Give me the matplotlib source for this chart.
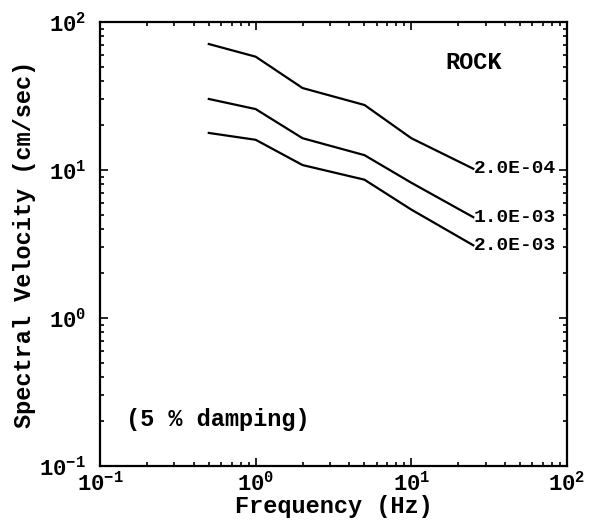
import matplotlib.pyplot as plt
import numpy as np
from matplotlib.ticker import LogLocator, NullFormatter

# частоты (Hz) и спектральные скорости (cm/sec)
freq = [0.5, 1.0, 2.0, 5.0, 10.0, 25.0]
vel_2e4 = [71.0, 58.3, 35.8, 27.5, 16.4, 10.2]
vel_1e3 = [30.2, 25.8, 16.4, 12.6, 8.2, 4.8]
vel_2e3 = [17.8, 16.0, 10.8, 8.6, 5.4, 3.1]
curve_labels = ["2.0E-04", "1.0E-03", "2.0E-03"]

plt.rcParams['font.family'] = ['Liberation Mono']
plt.rcParams['font.weight'] = 'bold'
plt.rcParams['axes.labelweight'] = 'bold'
plt.rcParams['mathtext.fontset'] = 'custom'
plt.rcParams['mathtext.rm'] = 'Liberation Mono:bold'
plt.rcParams['mathtext.it'] = 'Liberation Mono:bold'
plt.rcParams['mathtext.bf'] = 'Liberation Mono:bold'


def main():
    fig = plt.figure(figsize=(5.9, 5.24), dpi=100)
    ax = fig.add_axes([0.1695, 0.1107, 0.7915, 0.8473])

    for vals, lab in zip([vel_2e4, vel_1e3, vel_2e3], curve_labels):
        ax.plot(freq, vals, color='black', lw=1.6)
        ax.text(freq[-1] * 1.01, vals[-1], lab, fontsize=14, va='center', ha='left')

    ax.set_xscale('log')
    ax.set_yscale('log')
    ax.set_xlim(0.1, 100)
    ax.set_ylim(0.1, 100)

    for axis in [ax.xaxis, ax.yaxis]:
        axis.set_major_locator(LogLocator(base=10, numticks=10))
        axis.set_minor_locator(LogLocator(base=10, subs=np.arange(2, 10), numticks=10))
        axis.set_minor_formatter(NullFormatter())

    ax.tick_params(which='both', direction='in', top=True, right=True, width=1.2)
    ax.tick_params(which='major', length=6, labelsize=16)
    ax.tick_params(axis='x', which='major', pad=4)
    ax.tick_params(axis='y', which='major', pad=10)
    ax.tick_params(which='minor', length=3)
    for s in ax.spines.values():
        s.set_linewidth(1.6)

    ax.set_xlabel('Frequency (Hz)', fontsize=17, labelpad=0)
    ax.set_ylabel('Spectral Velocity (cm/sec)', fontsize=17, labelpad=2)

    ax.text(0.74, 0.895, 'ROCK', transform=ax.transAxes, fontsize=17)
    ax.text(0.055, 0.09, '(5 % damping)', transform=ax.transAxes, fontsize=17)

    fig.savefig('out.png', dpi=100)


if __name__ == '__main__':
    main()
